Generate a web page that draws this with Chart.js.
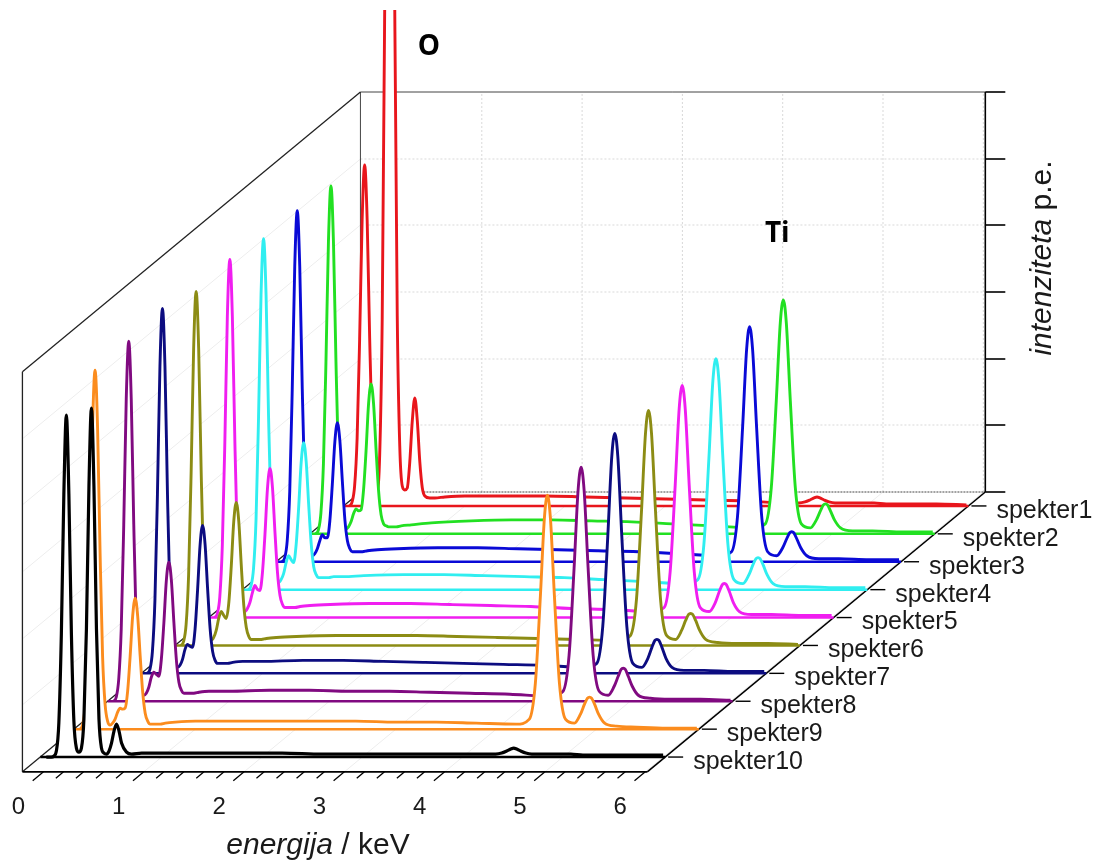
<!DOCTYPE html>
<html>
<head>
<meta charset="utf-8">
<title>EDS spektri</title>
<script src="https://cdn.jsdelivr.net/npm/chart.js@4.4.0/dist/chart.umd.min.js"></script>
<style>
  html, body { margin: 0; padding: 0; background: #fff; }
  #wrap { width: 1099px; height: 864px; position: relative; }
</style>
</head>
<body>
<div id="wrap"><canvas id="edsChart"></canvas></div>
<script>
// energy grid (keV), shared by all ten spectra
const energy = [
  -0.15, -0.125, -0.1, -0.075, -0.05, -0.025, 0, 0.025, 0.05, 0.075, 0.1, 0.125, 0.15, 0.175, 0.2, 0.225,
  0.25, 0.275, 0.3, 0.325, 0.35, 0.375, 0.4, 0.425, 0.45, 0.475, 0.5, 0.525, 0.55, 0.575, 0.6, 0.65, 0.7,
  0.8, 1.0, 1.4, 1.8, 2.2, 2.6, 3.0, 3.4, 3.8,
  4.2, 4.33, 4.39, 4.44, 4.48, 4.51, 4.54, 4.58, 4.63, 4.69, 4.78, 4.84, 4.88, 4.91, 4.93, 4.95, 4.98, 5.02, 5.08, 5.2,
  5.4, 5.7, 6.0
];

// intensities (arbitrary units)
const spekter1 = [0, 4, 20, 68, 167, 286, 341, 286, 168, 70, 24, 15, 51, 187, 500, 889, 1083, 889, 500, 190, 60, 20, 16, 18, 44, 85, 108, 85, 44, 18, 10, 8, 8,
  9, 10, 10, 10, 9, 8, 7, 6, 5,
  3, 3, 4, 6, 8, 9, 8, 6, 4, 3, 3, 3, 3, 3, 3, 3, 3, 3, 3, 2,
  2, 2, 1];
const spekter2 = [0, 4, 21, 70, 171, 292, 348, 292, 172, 72, 24, 8, 5, 7, 12, 20, 25, 23, 24, 44, 83, 130, 150, 130, 84, 43, 19, 10, 8, 7, 7, 7, 8,
  9, 11, 13, 14, 14, 13, 12, 10, 8,
  6, 10, 46, 133, 211, 234, 211, 133, 46, 10, 6, 14, 23, 29, 30, 29, 23, 14, 6, 3,
  3, 2, 2];
const spekter3 = [0, 4, 21, 70, 172, 295, 351, 295, 173, 73, 25, 9, 6, 8, 13, 21, 27, 24, 24, 41, 78, 120, 139, 121, 80, 42, 21, 13, 10, 10, 10, 10, 11,
  12, 13, 14, 14, 13, 12, 11, 10, 8,
  6, 10, 46, 134, 212, 235, 212, 134, 46, 10, 6, 14, 23, 29, 30, 29, 23, 14, 6, 3,
  3, 2, 2];
const spekter4 = [0, 4, 21, 70, 172, 295, 351, 295, 173, 73, 26, 10, 7, 10, 16, 27, 34, 30, 27, 45, 82, 127, 147, 128, 85, 46, 23, 15, 12, 12, 12, 12, 13,
  13, 14, 15, 15, 14, 13, 12, 10, 8,
  6, 10, 45, 131, 209, 231, 209, 131, 45, 10, 6, 15, 25, 31, 32, 31, 25, 15, 6, 3,
  3, 2, 2];
const spekter5 = [0, 4, 21, 72, 175, 301, 358, 301, 176, 74, 25, 9, 6, 9, 15, 25, 32, 28, 27, 45, 83, 129, 149, 130, 85, 45, 22, 13, 10, 10, 10, 10, 11,
  12, 13, 14, 14, 13, 12, 11, 9, 8,
  6, 10, 46, 132, 209, 232, 209, 132, 46, 10, 6, 15, 26, 33, 34, 33, 26, 15, 6, 3,
  3, 2, 2];
const spekter6 = [0, 4, 21, 71, 173, 297, 354, 297, 174, 73, 24, 8, 5, 8, 15, 27, 34, 30, 27, 42, 79, 124, 143, 124, 80, 40, 18, 9, 6, 6, 6, 6, 7,
  8, 9, 10, 10, 10, 9, 8, 7, 6,
  5, 10, 46, 134, 212, 235, 212, 134, 46, 10, 6, 15, 25, 31, 32, 31, 25, 15, 6, 3,
  2, 2, 1];
const spekter7 = [0, 4, 22, 73, 179, 307, 365, 307, 180, 75, 26, 9, 6, 8, 14, 24, 29, 27, 26, 44, 83, 128, 148, 129, 85, 45, 22, 13, 10, 10, 10, 10, 11,
  12, 12, 13, 13, 12, 11, 10, 9, 8,
  6, 10, 47, 137, 217, 240, 217, 137, 47, 10, 6, 15, 26, 33, 34, 33, 26, 15, 6, 3,
  3, 2, 2];
const spekter8 = [0, 4, 22, 72, 176, 302, 360, 302, 177, 74, 26, 9, 6, 8, 14, 24, 29, 27, 25, 42, 78, 121, 139, 121, 79, 41, 19, 11, 8, 8, 8, 8, 9,
  10, 10, 11, 11, 10, 10, 9, 8, 7,
  5, 10, 46, 133, 211, 234, 211, 133, 46, 10, 6, 15, 25, 32, 33, 32, 25, 15, 6, 3,
  2, 2, 1];
const spekter9 = [0, 4, 22, 72, 176, 302, 359, 302, 177, 73, 25, 8, 4, 6, 10, 17, 21, 20, 21, 38, 73, 113, 131, 113, 73, 37, 16, 8, 5, 5, 5, 5, 6,
  7, 8, 8, 8, 8, 8, 7, 7, 6,
  5, 10, 46, 133, 211, 234, 211, 133, 46, 10, 6, 15, 25, 31, 32, 31, 25, 15, 6, 3,
  2, 1, 1];
const spekter10 = [0, 0, 0, 1, 6, 34, 123, 263, 342, 263, 124, 36, 9, 5, 9, 38, 128, 270, 349, 270, 128, 38, 9, 4, 3, 6, 14, 26, 33, 26, 14, 5, 3,
  4, 4, 4, 4, 4, 3, 3, 3, 3,
  3, 3, 4, 6, 8, 9, 8, 6, 4, 3, 3, 3, 3, 3, 3, 3, 3, 3, 3, 2,
  2, 2, 2];

const spectrumNames = ['spekter1', 'spekter2', 'spekter3', 'spekter4', 'spekter5',
  'spekter6', 'spekter7', 'spekter8', 'spekter9', 'spekter10'];
const spectrumColors = ['#e8161c', '#22e022', '#0a0ad6', '#30eef0', '#f01ef0',
  '#8c8c14', '#0c0c80', '#800a80', '#fb8c1e', '#000000'];

const energyRange = [-0.21, 6.02];
const energyTicks = [0, 1, 2, 3, 4, 5, 6];
const energyMinorStep = 0.2;
const intensityTicks = [0, 67, 133, 200, 267, 333, 400];

// ---- pseudo-3D layout: every depth slice gets its own hidden pair of scales ----
const W = 1099, H = 864;
const KEV_PX = 100.3;              // px per keV along the energy axis
const BACK_X0 = 381.5, BACK_Y0 = 492; // 0 keV / 0 intensity on the back wall
const STEP_X = -33.7, STEP_Y = 27.9;  // shift per spectrum toward the viewer
const FRONT_STEPS = 10.03;

function scalePair(steps) {
  const ox = BACK_X0 + STEP_X * steps;
  const oy = BACK_Y0 + STEP_Y * steps;
  return {
    x: { type: 'linear', display: false, min: -ox / KEV_PX, max: (W - ox) / KEV_PX },
    y: { type: 'linear', display: false, min: oy - H, max: oy }
  };
}

const series = [spekter1, spekter2, spekter3, spekter4, spekter5,
  spekter6, spekter7, spekter8, spekter9, spekter10];

const scales = {};
const back = scalePair(0), front = scalePair(FRONT_STEPS);
scales.xBack = back.x; scales.yBack = back.y;
scales.xFront = front.x; scales.yFront = front.y;

const datasets = [];
// front spectrum first in the list, so it is painted last (on top)
for (let i = series.length - 1; i >= 0; i--) {
  const sp = scalePair(0.5 + i);
  scales['x' + i] = sp.x;
  scales['y' + i] = sp.y;
  datasets.push({
    label: spectrumNames[i] + ' osnovna linija',
    data: energyRange.map(e => ({ x: e, y: 0 })),
    xAxisID: 'x' + i, yAxisID: 'y' + i,
    borderColor: spectrumColors[i], borderWidth: 2.5,
    pointRadius: 0, fill: false
  });
  datasets.push({
    label: spectrumNames[i],
    data: energy.map((e, j) => ({ x: e, y: series[i][j] })),
    xAxisID: 'x' + i, yAxisID: 'y' + i,
    borderColor: spectrumColors[i], borderWidth: i === 9 ? 3.2 : 2.9,
    backgroundColor: '#ffffff', fill: 'origin',
    pointRadius: 0, cubicInterpolationMode: 'monotone',
    clip: { left: false, top: -10, right: false, bottom: false }
  });
}

const FONT = '"Liberation Sans", Arial, sans-serif';

function seg(ctx, x1, y1, x2, y2) {
  ctx.beginPath();
  ctx.moveTo(x1, y1);
  ctx.lineTo(x2, y2);
  ctx.stroke();
}

// draws text made of italic / upright pieces, centred on x
function mixedText(ctx, parts, x, y, size) {
  let total = 0;
  parts.forEach(p => {
    ctx.font = (p.italic ? 'italic ' : '') + size + 'px ' + FONT;
    p.w = ctx.measureText(p.t).width;
    total += p.w;
  });
  let cx = x - total / 2;
  ctx.textAlign = 'left';
  parts.forEach(p => {
    ctx.font = (p.italic ? 'italic ' : '') + size + 'px ' + FONT;
    ctx.fillText(p.t, cx, y);
    cx += p.w;
  });
}

const frame3d = {
  id: 'frame3d',
  beforeDatasetsDraw(chart) {
    const { ctx, scales: s } = chart;
    const bx = v => s.xBack.getPixelForValue(v), by = v => s.yBack.getPixelForValue(v);
    const fx = v => s.xFront.getPixelForValue(v), fy = v => s.yFront.getPixelForValue(v);
    const [e0, e1] = energyRange;
    const top = intensityTicks[intensityTicks.length - 1];
    ctx.save();

    // faint grid on back wall
    ctx.lineWidth = 1;
    ctx.strokeStyle = '#d9d9d9';
    ctx.setLineDash([2, 2]);
    energyTicks.slice(1).forEach(e => seg(ctx, bx(e), by(0), bx(e), by(top)));
    intensityTicks.slice(1, -1).forEach(v => seg(ctx, bx(e0), by(v), bx(e1), by(v)));
    // faint grid on left wall and floor
    ctx.setLineDash([]);
    ctx.strokeStyle = '#ededed';
    intensityTicks.slice(1, -1).forEach(v => seg(ctx, bx(e0), by(v), fx(e0), fy(v)));
    energyTicks.slice(1).forEach(e => seg(ctx, bx(e), by(0), fx(e), fy(0)));

    // box edges
    ctx.strokeStyle = '#444';
    ctx.lineWidth = 1;
    seg(ctx, bx(e0), by(top), bx(e1), by(top));
    seg(ctx, bx(e0), by(0), bx(e0), by(top));
    ctx.setLineDash([2, 1]);
    seg(ctx, bx(e0), by(0), bx(e1), by(0));
    ctx.setLineDash([]);
    ctx.strokeStyle = '#222';
    ctx.lineWidth = 1.3;
    seg(ctx, bx(e0), by(top), fx(e0), fy(top));
    seg(ctx, fx(e0), fy(0), fx(e0), fy(top));
    seg(ctx, bx(e0), by(0), fx(e0), fy(0));
    ctx.strokeStyle = '#000';
    ctx.lineWidth = 1.6;
    seg(ctx, fx(e0), fy(0), fx(e1), fy(0));
    seg(ctx, bx(e1), by(0), fx(e1), fy(0));

    // intensity axis on the right edge of the back wall
    seg(ctx, bx(e1), by(0), bx(e1), by(top));
    intensityTicks.forEach(v => seg(ctx, bx(e1), by(v), bx(e1) + 20, by(v)));

    // slanted energy ticks on the front edge of the floor
    const len = Math.hypot(STEP_X, STEP_Y);
    const ux = STEP_X / len, uy = STEP_Y / len;
    ctx.lineWidth = 1.3;
    const nMinor = Math.round((energyTicks[energyTicks.length - 1] - energyTicks[0]) / energyMinorStep);
    for (let k = 0; k <= nMinor; k++) {
      const e = energyTicks[0] + k * energyMinorStep;
      const major = Math.abs(e - Math.round(e)) < 1e-6;
      const l = major ? 14 : 10;
      seg(ctx, fx(e), fy(0), fx(e) + ux * l, fy(0) + uy * l);
    }
    ctx.restore();
  },
  afterDatasetsDraw(chart) {
    const { ctx, scales: s } = chart;
    const fx = v => s.xFront.getPixelForValue(v), fy = v => s.yFront.getPixelForValue(v);
    const [, e1] = energyRange;
    ctx.save();
    ctx.fillStyle = '#1a1a1a';
    ctx.textBaseline = 'middle';

    // energy tick labels and title
    ctx.font = '24px ' + FONT;
    ctx.textAlign = 'center';
    energyTicks.forEach(e => ctx.fillText(String(e), fx(e) - 25, fy(0) + 36));
    mixedText(ctx, [{ t: 'energija', italic: true }, { t: ' / keV', italic: false }], 318, fy(0) + 74, 30);

    // intensity title, rotated
    ctx.save();
    ctx.translate(1043, 258);
    ctx.rotate(-Math.PI / 2);
    mixedText(ctx, [{ t: 'intenziteta', italic: true }, { t: ' p.e.', italic: false }], 0, 0, 30);
    ctx.restore();

    // spectrum names at the right end of each baseline
    ctx.strokeStyle = '#000';
    ctx.lineWidth = 1.4;
    ctx.font = '25px ' + FONT;
    ctx.textAlign = 'left';
    series.forEach((_, i) => {
      const xe = s['x' + i].getPixelForValue(e1);
      const yb = s['y' + i].getPixelForValue(0);
      seg(ctx, xe + 3, yb, xe + 18, yb);
      ctx.fillText(spectrumNames[i], xe + 28, yb + 5);
    });

    // element labels
    ctx.fillStyle = '#000';
    ctx.font = 'bold 28px "Open Sans", ' + FONT;
    ctx.textAlign = 'center';
    ctx.fillText('O', s.x0.getPixelForValue(0.64), s.y0.getPixelForValue(459));
    ctx.fillText('Ti', s.x1.getPixelForValue(4.45), s.y1.getPixelForValue(300));
    ctx.restore();
  }
};

const chart = new Chart(document.getElementById('edsChart').getContext('2d'), {
  type: 'line',
  data: { datasets: datasets },
  options: {
    responsive: true,
    maintainAspectRatio: false,
    animation: false,
    events: [],
    layout: { padding: 0 },
    scales: scales,
    plugins: {
      legend: { display: false },
      tooltip: { enabled: false },
      filler: { propagate: false }
    }
  },
  plugins: [frame3d]
});
</script>
</body>
</html>
